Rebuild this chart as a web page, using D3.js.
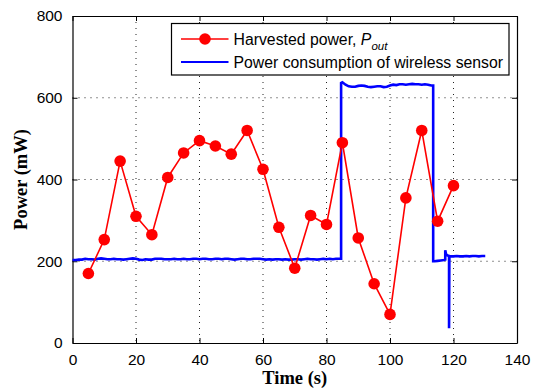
<!DOCTYPE html>
<html>
<head>
<meta charset="utf-8">
<script src="https://cdn.jsdelivr.net/npm/d3@7"></script>
<style>
    body { margin: 0; background: #fff; }
    .tick text { font-family: "Liberation Sans", Arial, sans-serif; font-size: 15.5px; fill: #000; }
    .axis_title { font-family: "Liberation Serif", "Times New Roman", serif; font-size: 18.5px; font-weight: bold; }
    .legend_text { font-family: "Liberation Sans", Arial, sans-serif; font-size: 15.8px; }
</style>
</head>
<body>
<div id="chart"></div>
<script>

// harvested power, one point every 5 s
let harvest_time = [5, 10, 15, 20, 25, 30, 35, 40, 45, 50, 55, 60,
                    65, 70, 75, 80, 85, 90, 95, 100, 105, 110, 115, 120];
let harvest_power = [170, 253, 445, 310, 265, 405, 465, 495, 482, 462, 520, 425,
                     283, 183, 312, 290, 490, 257, 145, 70, 355, 520, 298, 385];

// sensor consumption trace [time, power]
let sensor_power = [
    [0, 203], [1, 203], [2, 204], [3, 204], [4, 206], [5, 205], [6, 205], [7, 204], [8, 206], [9, 207],
    [10, 206], [11, 205], [12, 205], [13, 206], [14, 205], [15, 205], [16, 204], [17, 205], [18, 206], [19, 207],
    [20, 206], [21, 204], [22, 203], [23, 205], [24, 204], [25, 204], [26, 206], [27, 206], [28, 206], [29, 205],
    [30, 205], [31, 205], [32, 206], [33, 205], [34, 205], [35, 206], [36, 205], [37, 205], [38, 206], [39, 206],
    [40, 205], [41, 206], [42, 206], [43, 205], [44, 205], [45, 206], [46, 206], [47, 205], [48, 206], [49, 206],
    [50, 205], [51, 204], [52, 205], [53, 206], [54, 206], [55, 205], [56, 205], [57, 206], [58, 206], [59, 206],
    [60, 205], [61, 204], [62, 205], [63, 204], [64, 205], [65, 205], [66, 204], [67, 205], [68, 204], [69, 204],
    [70, 205], [71, 205], [72, 204], [73, 205], [74, 206], [75, 205], [76, 205], [77, 204], [78, 205], [79, 206],
    [80, 205], [81, 206], [82, 205], [83, 206], [84, 206], [84.6, 206],
    [84.6, 636], [85, 638], [86, 632], [87, 628], [88, 627], [89, 627], [90, 629], [91, 630], [92, 629], [93, 627],
    [94, 626], [95, 627], [96, 628], [97, 628], [98, 626], [99, 627], [100, 630], [101, 632], [102, 631], [103, 633],
    [104, 633], [105, 632], [106, 633], [107, 634], [108, 633], [109, 633], [110, 632], [111, 633], [112, 632], [113, 630],
    [113.6, 630],
    [113.6, 200], [114, 200], [115, 201], [116, 202], [117, 203], [117.4, 204],
    [117.4, 227], [117.7, 216], [118.2, 214], [118.6, 213],
    [118.6, 36], [118.7, 210], [119, 212], [120, 212], [121, 213], [122, 212], [123, 212], [124, 213],
    [125, 212], [126, 213], [127, 213], [128, 212], [129, 213], [130, 213]
];

let x_ticks = [0, 20, 40, 60, 80, 100, 120, 140];
let y_ticks = [0, 200, 400, 600, 800];

let legend_labels = ["Harvested power, ", "Power consumption of wireless sensor"];


function draw_chart() {

    let chart_width = 538;
    let chart_height = 390;

    let margin_top = 16;
    let margin_right = 21;
    let margin_bottom = 47;
    let margin_left = 72.5;

    let width = chart_width - margin_left - margin_right;
    let height = chart_height - margin_top - margin_bottom;

    let svg = d3.select("#chart")
                .append("svg")
                .attr("width", chart_width)
                .attr("height", chart_height)
                .append("g")
                .attr("transform", "translate(" + margin_left + "," + margin_top + ")");

    let xScale = d3.scaleLinear().domain([0, 140]).range([0, width]);
    let yScale = d3.scaleLinear().domain([0, 800]).range([height, 0]);

    // dotted grid
    svg.append("g").selectAll("line")
        .data(x_ticks.slice(1, -1))
        .enter()
        .append("line")
        .attr("x1", d => xScale(d)).attr("x2", d => xScale(d))
        .attr("y1", 0).attr("y2", height)
        .attr("stroke", "#222")
        .attr("stroke-width", 1)
        .attr("stroke-dasharray", "1,5");

    svg.append("g").selectAll("line")
        .data(y_ticks.slice(1, -1))
        .enter()
        .append("line")
        .attr("x1", 0).attr("x2", width)
        .attr("y1", d => yScale(d)).attr("y2", d => yScale(d))
        .attr("stroke", "#222")
        .attr("stroke-width", 1)
        .attr("stroke-dasharray", "1,5");

    // axes, ticks inside on all four sides
    svg.append("g")
        .attr("transform", "translate(0," + height + ")")
        .call(d3.axisBottom(xScale).tickValues(x_ticks).tickSizeInner(-5).tickSizeOuter(0).tickPadding(11));
    svg.append("g")
        .call(d3.axisTop(xScale).tickValues(x_ticks).tickSizeInner(-5).tickSizeOuter(0).tickFormat(""));
    svg.append("g")
        .call(d3.axisLeft(yScale).tickValues(y_ticks).tickSizeInner(-5).tickSizeOuter(0).tickPadding(10));
    svg.append("g")
        .attr("transform", "translate(" + width + ",0)")
        .call(d3.axisRight(yScale).tickValues(y_ticks).tickSizeInner(-5).tickSizeOuter(0).tickFormat(""));

    svg.selectAll(".domain").attr("stroke", "#000").attr("stroke-width", 1.2);
    svg.selectAll(".tick line").attr("stroke", "#000");

    // sensor trace
    svg.append("path")
        .datum(sensor_power)
        .attr("fill", "none")
        .attr("stroke", "#0000ff")
        .attr("stroke-width", 2.6)
        .attr("d", d3.line()
            .x(d => xScale(d[0]))
            .y(d => yScale(d[1])));

    // harvested power
    let harvest = harvest_time.map((t, i) => [t, harvest_power[i]]);

    svg.append("path")
        .datum(harvest)
        .attr("fill", "none")
        .attr("stroke", "#ff0000")
        .attr("stroke-width", 1.6)
        .attr("d", d3.line()
            .x(d => xScale(d[0]))
            .y(d => yScale(d[1])));

    svg.append("g").selectAll("circle")
        .data(harvest)
        .enter()
        .append("circle")
        .attr("cx", d => xScale(d[0]))
        .attr("cy", d => yScale(d[1]))
        .attr("r", 5.8)
        .attr("fill", "#ff0000");

    // legend
    let legend = svg.append("g").attr("transform", "translate(" + (171.5 - margin_left) + "," + (23.5 - margin_top) + ")");
    legend.append("rect")
        .attr("width", 337.5).attr("height", 51.5)
        .attr("fill", "#fff").attr("stroke", "#000").attr("stroke-width", 1.2);

    let row_y = [15.5, 38.5];
    legend.append("line")
        .attr("x1", 9.5).attr("x2", 57).attr("y1", row_y[0]).attr("y2", row_y[0])
        .attr("stroke", "#ff0000").attr("stroke-width", 1.6);
    legend.append("circle")
        .attr("cx", 33.5).attr("cy", row_y[0]).attr("r", 5.8).attr("fill", "#ff0000");
    legend.append("line")
        .attr("x1", 9.5).attr("x2", 57).attr("y1", row_y[1]).attr("y2", row_y[1])
        .attr("stroke", "#0000ff").attr("stroke-width", 2);

    let t1 = legend.append("text").attr("class", "legend_text")
        .attr("x", 62).attr("y", row_y[0] + 5.5);
    t1.append("tspan").text(legend_labels[0]);
    t1.append("tspan").attr("font-style", "italic").text("P");
    t1.append("tspan").attr("font-style", "italic").attr("font-size", "11.5px").attr("dy", 5).text("out");

    legend.append("text").attr("class", "legend_text")
        .attr("x", 62).attr("y", row_y[1] + 5.5)
        .text(legend_labels[1]);

    // axis titles
    svg.append("text").attr("class", "axis_title")
        .attr("text-anchor", "middle")
        .attr("x", width / 2).attr("y", height + 41)
        .text("Time (s)");

    svg.append("text").attr("class", "axis_title")
        .attr("text-anchor", "middle")
        .attr("transform", "translate(" + (-46) + "," + (height / 2) + ") rotate(-90)")
        .text("Power (mW)");
}

draw_chart();
</script>
</body>
</html>
